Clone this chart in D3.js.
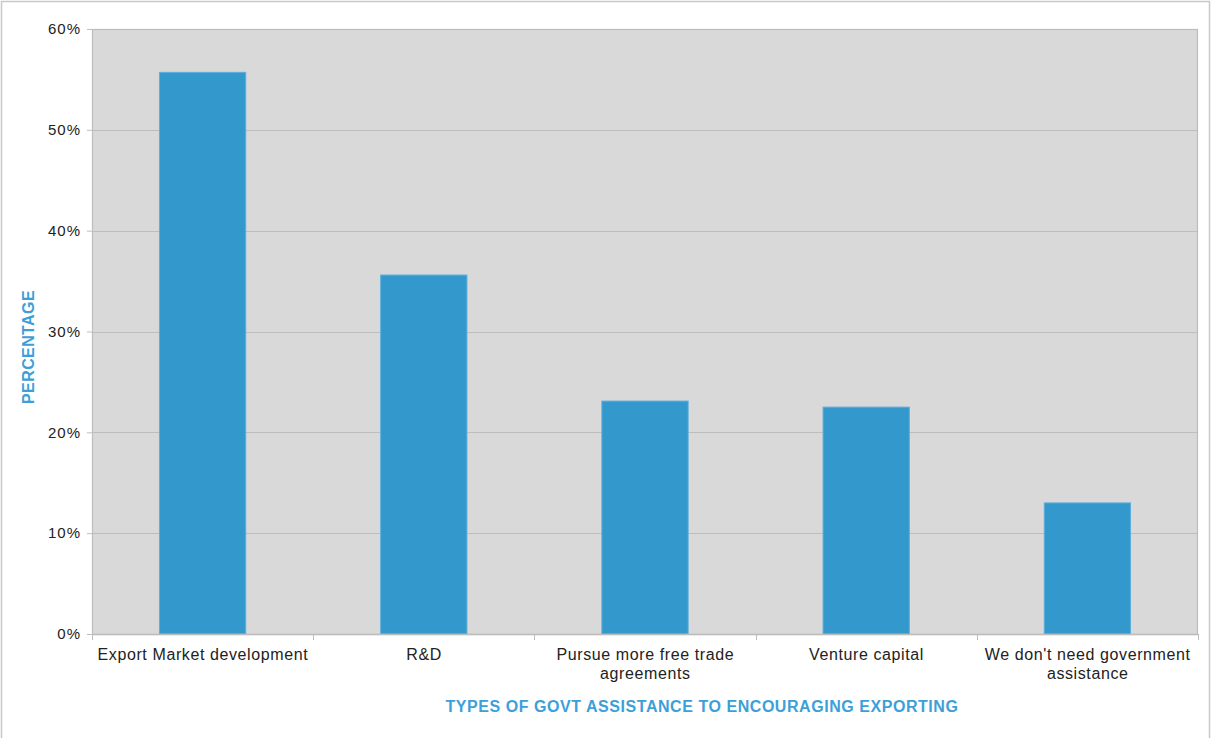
<!DOCTYPE html>
<html>
<head>
<meta charset="utf-8">
<script src="https://cdn.jsdelivr.net/npm/d3@7"></script>
<style>
  html, body { margin: 0; padding: 0; background: #ffffff; }
  svg { display: block; }
  text { font-family: "Liberation Sans", Arial, sans-serif; }
</style>
</head>
<body>
<svg id="chart" width="1212" height="738"></svg>
<script>
// Survey responses: share of companies choosing each kind of assistance
const categories = [
  ["Export Market development"],
  ["R&D"],
  ["Pursue more free trade", "agreements"],
  ["Venture capital"],
  ["We don't need government", "assistance"]
];
const values = [0.557, 0.356, 0.231, 0.225, 0.130];
const yTicks = [0, 0.1, 0.2, 0.3, 0.4, 0.5, 0.6];
const xTitle = "TYPES OF GOVT ASSISTANCE TO ENCOURAGING EXPORTING";
const yTitle = "PERCENTAGE";

const svg = d3.select("#chart");
const W = 1212, H = 738;
const margin = { left: 92, right: 14, top: 29, bottom: 104 };
const innerW = W - margin.left - margin.right;
const innerH = H - margin.top - margin.bottom;

// outer frame
svg.append("rect")
  .attr("x", 1.5).attr("y", 1.5)
  .attr("width", 1208).attr("height", 760)
  .attr("fill", "none").attr("stroke", "#c8c8c8").attr("stroke-width", 1.5);

const g = svg.append("g").attr("transform", `translate(${margin.left},${margin.top})`);

const x = d3.scaleBand()
  .domain(d3.range(categories.length))
  .range([0, innerW])
  .paddingInner(0.61)
  .paddingOuter(0.305);

const y = d3.scaleLinear().domain([0, 0.6]).range([innerH, 0]);

// plot background
g.append("rect")
  .attr("x", 0).attr("y", 0)
  .attr("width", innerW).attr("height", innerH)
  .attr("fill", "#d9d9d9");

// horizontal gridlines
g.append("g")
  .selectAll("line")
  .data(yTicks)
  .join("line")
  .attr("x1", 0).attr("x2", innerW)
  .attr("y1", d => Math.round(y(d)) + 0.5)
  .attr("y2", d => Math.round(y(d)) + 0.5)
  .attr("stroke", "#bdbdbd").attr("stroke-width", 1);

// plot border
g.append("rect")
  .attr("x", 0.5).attr("y", 0.5)
  .attr("width", innerW - 1).attr("height", innerH)
  .attr("fill", "none").attr("stroke", "#bdbdbd").attr("stroke-width", 1.2);

// bars
g.append("g")
  .selectAll("rect")
  .data(values)
  .join("rect")
  .attr("x", (d, i) => x(i))
  .attr("y", d => y(d))
  .attr("width", x.bandwidth())
  .attr("height", d => innerH - y(d))
  .attr("fill", "#3398cc")
  .attr("stroke", "#5eaedb")
  .attr("stroke-width", 1);

// y axis
const yAxis = g.append("g")
  .call(d3.axisLeft(y).tickValues(yTicks).tickFormat(d3.format(".0%")).tickSize(5).tickPadding(6));
yAxis.select(".domain").attr("stroke", "#bdbdbd");
yAxis.selectAll(".tick line").attr("stroke", "#bdbdbd");
yAxis.selectAll(".tick text")
  .attr("font-size", 15).attr("fill", "#222222")
  .attr("letter-spacing", 1)
  .attr("font-family", "Liberation Sans, Arial, sans-serif");

// x axis: ticks at category boundaries
const step = x.step();
const bounds = d3.range(categories.length + 1).map(i => i * step);
const xAxisG = g.append("g").attr("transform", `translate(0,${innerH})`);
xAxisG.append("line")
  .attr("x1", 0).attr("x2", innerW).attr("y1", 0.5).attr("y2", 0.5)
  .attr("stroke", "#bdbdbd").attr("stroke-width", 1.5);
xAxisG.selectAll(".bound")
  .data(bounds)
  .join("line")
  .attr("class", "bound")
  .attr("x1", d => Math.round(d) + 0.5).attr("x2", d => Math.round(d) + 0.5)
  .attr("y1", 0).attr("y2", 6)
  .attr("stroke", "#bdbdbd");

// category labels
const labels = xAxisG.selectAll(".cat")
  .data(categories)
  .join("text")
  .attr("class", "cat")
  .attr("text-anchor", "middle")
  .attr("font-size", 16)
  .attr("letter-spacing", 0.6)
  .attr("fill", "#222222")
  .attr("transform", (d, i) => `translate(${x(i) + x.bandwidth() / 2 + 0.3},0)`);
labels.selectAll("tspan")
  .data(d => d)
  .join("tspan")
  .attr("x", 0)
  .attr("y", (d, j) => 26 + j * 19)
  .text(d => d);

// axis titles
svg.append("text")
  .attr("x", 702).attr("y", 712)
  .attr("text-anchor", "middle")
  .attr("font-size", 16).attr("font-weight", "bold")
  .attr("fill", "#3d9fd9")
  .attr("letter-spacing", 0.55)
  .text(xTitle);

svg.append("text")
  .attr("transform", "translate(34,347) rotate(-90)")
  .attr("text-anchor", "middle")
  .attr("font-size", 16).attr("font-weight", "bold")
  .attr("fill", "#3d9fd9")
  .attr("letter-spacing", 0.4)
  .text(yTitle);
</script>
</body>
</html>
